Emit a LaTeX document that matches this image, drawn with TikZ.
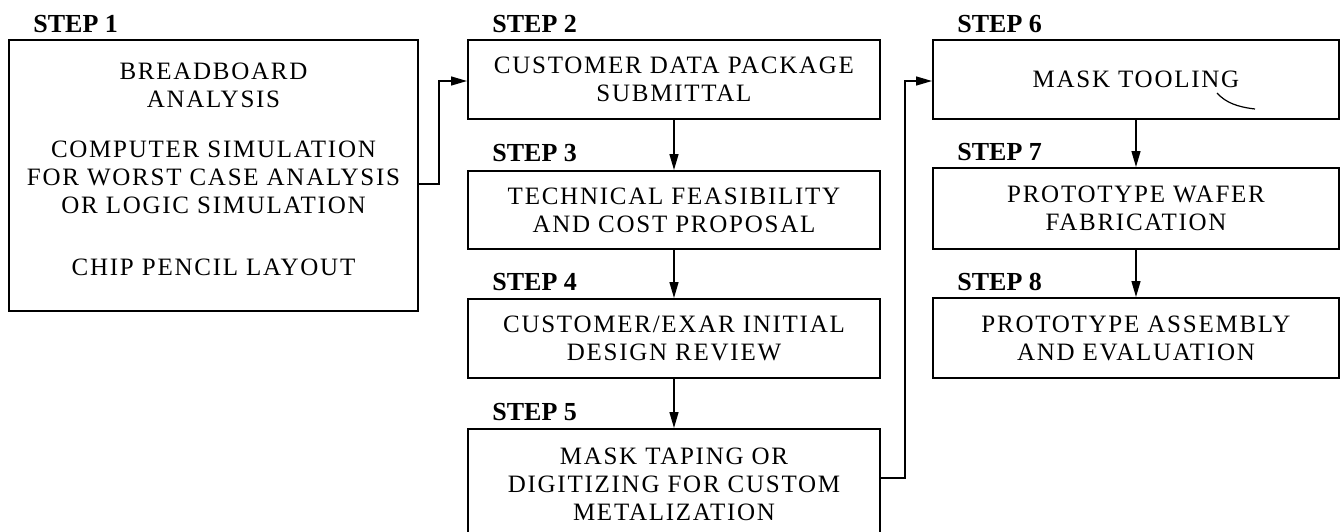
\documentclass[tikz,border=0pt]{standalone}
\usepackage{fontspec}
\setmainfont{Liberation Serif}[LetterSpace=7]
\newfontfamily\stepfont{Liberation Serif}
\usetikzlibrary{positioning,arrows.meta}

\begin{document}
\begin{tikzpicture}[
  x=0.5pt, y=-0.5pt,
  >={Triangle[length=8pt,width=4.5pt]},
  box/.style={draw, line width=1pt, align=center, inner sep=0pt,
    font=\fontsize{12.5}{14}\selectfont},
  steplbl/.style={anchor=base west, inner sep=0pt,
    font=\stepfont\bfseries\fontsize{13}{14}\selectfont},
  flow/.style={->, line width=0.7pt}
]
\clip (0,0) rectangle (1340,531);

% step 1
\node[box, anchor=north west, minimum width=204.5pt, minimum height=135.5pt] (s1) at (8,39) {};
\node[align=center, inner sep=0pt, font=\fontsize{12.5}{14}\selectfont] (s1text)
  at ([yshift=3pt]s1.center)
  {BREADBOARD\\ANALYSIS\\[11pt]COMPUTER SIMULATION\\FOR WORST CASE ANALYSIS\\OR LOGIC SIMULATION\\[17pt]CHIP PENCIL LAYOUT};

% steps 2 to 5
\node[box, anchor=north west, minimum width=206pt, minimum height=39.5pt] (s2) at (467,39)
  {CUSTOMER DATA PACKAGE\\SUBMITTAL};
\node[box, anchor=north west, minimum width=206pt, minimum height=39pt] (s3) at (467,170)
  {TECHNICAL FEASIBILITY\\AND COST PROPOSAL};
\node[box, anchor=north west, minimum width=206pt, minimum height=39.5pt] (s4) at (467,298)
  {CUSTOMER/EXAR INITIAL\\DESIGN REVIEW};
\node[box, anchor=north west, minimum width=206pt, minimum height=55pt] (s5) at (467,428)
  {MASK TAPING OR\\DIGITIZING FOR CUSTOM\\METALIZATION};

% steps 6 to 8
\node[box, anchor=north west, minimum width=203pt, minimum height=39.5pt] (s6) at (932,39)
  {MASK TOOLING};
\node[box, anchor=north west, minimum width=203pt, minimum height=40.5pt] (s7) at (932,167)
  {PROTOTYPE WAFER\\FABRICATION};
\node[box, anchor=north west, minimum width=203pt, minimum height=40pt] (s8) at (932,297)
  {PROTOTYPE ASSEMBLY\\AND EVALUATION};

% step titles
\node[steplbl] (t1) at ([xshift=12.5pt,yshift=3.5pt]s1.north west) {STEP 1};
\node[steplbl] (t2) at ([xshift=12.5pt,yshift=3.5pt]s2.north west) {STEP 2};
\node[steplbl] (t3) at ([xshift=12.5pt,yshift=4.5pt]s3.north west) {STEP 3};
\node[steplbl] (t4) at ([xshift=12.5pt,yshift=4pt]s4.north west) {STEP 4};
\node[steplbl] (t5) at ([xshift=12.5pt,yshift=4pt]s5.north west) {STEP 5};
\node[steplbl] (t6) at ([xshift=12.5pt,yshift=3.5pt]s6.north west) {STEP 6};
\node[steplbl] (t7) at ([xshift=12.5pt,yshift=3.5pt]s7.north west) {STEP 7};
\node[steplbl] (t8) at ([xshift=12.5pt,yshift=3.5pt]s8.north west) {STEP 8};

% connectors
\coordinate (k1) at (439,81);
\coordinate (k2) at (905,81);
\draw[flow] ([yshift=-4.25pt]s1.east) -| (k1) -- (s2.west |- k1);
\draw[flow] (s2.south) -- (s3.north);
\draw[flow] (s3.south) -- (s4.north);
\draw[flow] (s4.south) -- (s5.north);
\draw[flow] ([yshift=3pt]s5.east) -| (k2) -- (s6.west |- k2);
\draw[flow] (s6.south) -- (s7.north);
\draw[flow] (s7.south) -- (s8.north);

% pen stroke under MASK TOOLING
\draw[line width=0.6pt] (1217,93) .. controls (1226,103) and (1238,107) .. (1255,109);
\end{tikzpicture}
\end{document}
